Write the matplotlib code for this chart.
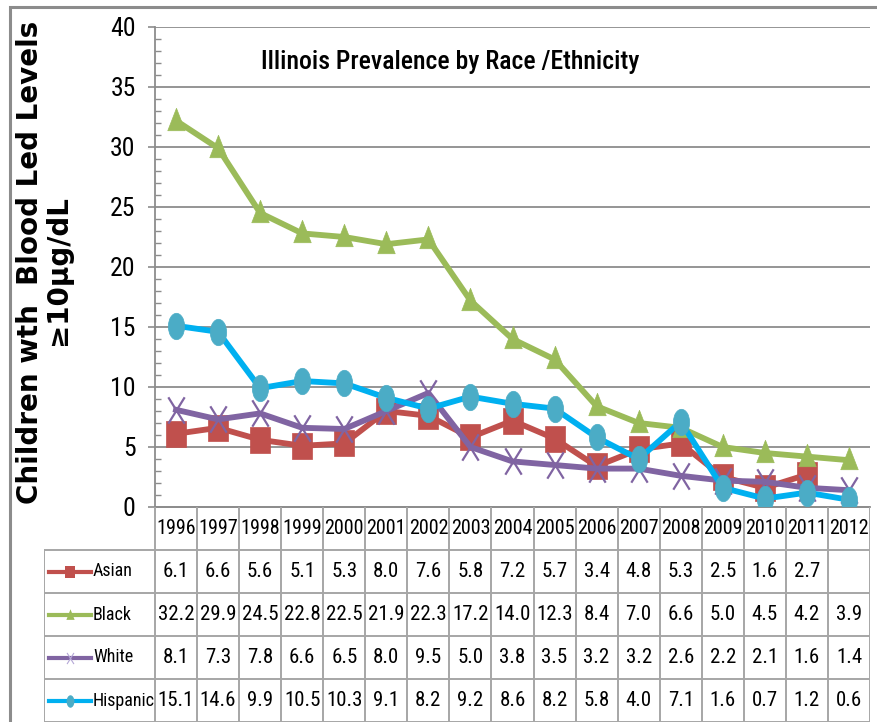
import numpy as np
import matplotlib
matplotlib.use("Agg")
import matplotlib.pyplot as plt
from matplotlib.path import Path
from matplotlib.lines import Line2D
from matplotlib.patches import Rectangle

# Datos
years = [1996, 1997, 1998, 1999, 2000, 2001, 2002, 2003, 2004, 2005,
         2006, 2007, 2008, 2009, 2010, 2011, 2012]
asian = [6.1, 6.6, 5.6, 5.1, 5.3, 8.0, 7.6, 5.8, 7.2, 5.7, 3.4, 4.8, 5.3, 2.5, 1.6, 2.7, np.nan]
black = [32.2, 29.9, 24.5, 22.8, 22.5, 21.9, 22.3, 17.2, 14.0, 12.3, 8.4, 7.0, 6.6, 5.0, 4.5, 4.2, 3.9]
white = [8.1, 7.3, 7.8, 6.6, 6.5, 8.0, 9.5, 5.0, 3.8, 3.5, 3.2, 3.2, 2.6, 2.2, 2.1, 1.6, 1.4]
hispanic = [15.1, 14.6, 9.9, 10.5, 10.3, 9.1, 8.2, 9.2, 8.6, 8.2, 5.8, 4.0, 7.1, 1.6, 0.7, 1.2, 0.6]
series_names = ["Asian", "Black", "White", "Hispanic"]
y_ticks = [0, 5, 10, 15, 20, 25, 30, 35, 40]

NARROW = ['Roboto Condensed', 'PT Sans Narrow', 'DejaVu Sans']
W, H = 877, 722

# Marcadores "aplastados" como en el original
sx = 0.62
circ = Path.unit_circle()
ellipse = Path(circ.vertices * [sx, 1.0], circ.codes)
square = Path([(-sx, -0.85), (sx, -0.85), (sx, 0.85), (-sx, 0.85), (-sx, -0.85)],
              [Path.MOVETO, Path.LINETO, Path.LINETO, Path.LINETO, Path.CLOSEPOLY])
tri = Path([(0, 1.0), (0.66, -0.7), (-0.66, -0.7), (0, 1.0)],
           [Path.MOVETO, Path.LINETO, Path.LINETO, Path.CLOSEPOLY])
cross = Path([(-sx, -1), (sx, 1), (-sx, 1), (sx, -1)],
             [Path.MOVETO, Path.LINETO, Path.MOVETO, Path.LINETO])

estilos = [
    # color linea, marcador, color marcador
    ("#C0504D", square, "#C0504D"),
    ("#9BBB59", tri, "#9BBB59"),
    ("#8064A2", cross, "#8064A2"),
    ("#00B0F0", ellipse, "#4BACC6"),
]
datos = [asian, black, white, hispanic]

fig = plt.figure(figsize=(W / 100, H / 100), dpi=100)

# Borde exterior del grafico
fig.patches.append(Rectangle((10 / W, -0.05), 1.2, 1 - 7 / H + 0.05, transform=fig.transFigure,
                             fill=False, edgecolor="#8C8C8C", linewidth=2.2))

ax = fig.add_axes([155 / W, 1 - 507 / H, 715 / W, 480 / H])
x = np.arange(len(years))
for (lc, mk, mc), vals in zip(estilos, datos):
    if mk is cross:
        ax.plot(x, vals, color=lc, linewidth=4.2, marker=mk, markersize=19,
                markerfacecolor="none", markeredgecolor=mc, markeredgewidth=1.6,
                solid_joinstyle="round", zorder=3)
    else:
        ax.plot(x, vals, color=lc, linewidth=4.2, marker=mk, markersize=19,
                markerfacecolor=mc, markeredgecolor=mc, markeredgewidth=0.5,
                solid_joinstyle="round", zorder=3)

ax.set_xlim(-0.5, len(years) - 0.5)
ax.set_ylim(0, 40)
ax.set_yticks(y_ticks)
ax.set_yticks(np.arange(0, 41, 1), minor=True)
ax.set_xticks([])
ax.grid(axis="y", which="major", color="#8C8C8C", linewidth=1.3, zorder=0)
ax.tick_params(axis="y", which="major", length=5, width=1.2, color="#8C8C8C",
               direction="out", pad=9, labelsize=18.5)
ax.tick_params(axis="y", which="minor", length=4, width=1, color="#8C8C8C", direction="in")
for lab in ax.get_yticklabels():
    lab.set_family(NARROW)
for s in ["top", "right"]:
    ax.spines[s].set_visible(False)
for s in ["left", "bottom"]:
    ax.spines[s].set_color("#8C8C8C")
    ax.spines[s].set_linewidth(1.3)

ax.text(0.413, 0.927, "Illinois Prevalence by Race /Ethnicity", transform=ax.transAxes,
        ha="center", va="center", fontsize=18.5, fontweight="medium", family=NARROW)

# Etiqueta del eje y
fig.text(30 / W, 1 - 262 / H, "Children wth  Blood Led Levels", rotation=90,
         ha="center", va="center", fontsize=20, fontweight="bold", family="DejaVu Sans")
fig.text(58 / W, 1 - 270 / H, "\u226510\u00b5g/dL", rotation=90,
         ha="center", va="center", fontsize=20, fontweight="bold", family="DejaVu Sans")

# Tabla de datos
ncol = len(years)
colw = 715 / ncol
left_px = 44
tab = fig.add_axes([left_px / W, 0, (870 - left_px) / W, 1 - 507 / H])
x0 = -0.5 - (155 - left_px) / colw
tab.set_xlim(x0, ncol - 0.5)
tab.set_ylim(5, 0)
tab.axis("off")
gc = "#A6A6A6"
# lineas horizontales
tab.plot([-0.5, ncol - 0.5], [0, 0], color="#8C8C8C", lw=1.3)
for r in range(1, 6):
    tab.plot([x0, ncol - 0.5], [r, r], color=gc, lw=1.4)
# lineas verticales
for c in range(ncol + 1):
    tab.plot([c - 0.5, c - 0.5], [0, 5], color=gc, lw=1.4)
tab.plot([x0, x0], [1, 5], color=gc, lw=1.4)

for c, yr in enumerate(years):
    tab.text(c, 0.5, str(yr), ha="center", va="center", fontsize=14.5, family=NARROW)
for r, ((lc, mk, mc), vals, name) in enumerate(zip(estilos, datos, series_names), start=1):
    for c, v in enumerate(vals):
        if not np.isnan(v):
            tab.text(c, r + 0.5, f"{v:.1f}", ha="center", va="center", fontsize=15, family=NARROW)
    kx0 = x0 + 5 / colw
    kx1 = x0 + 47 / colw
    tab.add_line(Line2D([kx0, kx1], [r + 0.5, r + 0.5], color=lc, lw=3))
    if mk is cross:
        tab.add_line(Line2D([(kx0 + kx1) / 2], [r + 0.5], marker=mk, markersize=8,
                            markerfacecolor="none", markeredgecolor="#B4A7D6", markeredgewidth=0.8))
    else:
        tab.add_line(Line2D([(kx0 + kx1) / 2], [r + 0.5], marker=mk, markersize=9,
                            color=mc, markeredgewidth=0))
    tab.text(x0 + 49 / colw, r + 0.5, name, ha="left", va="center", fontsize=13, family=NARROW)

fig.savefig("out.png", dpi=100)
